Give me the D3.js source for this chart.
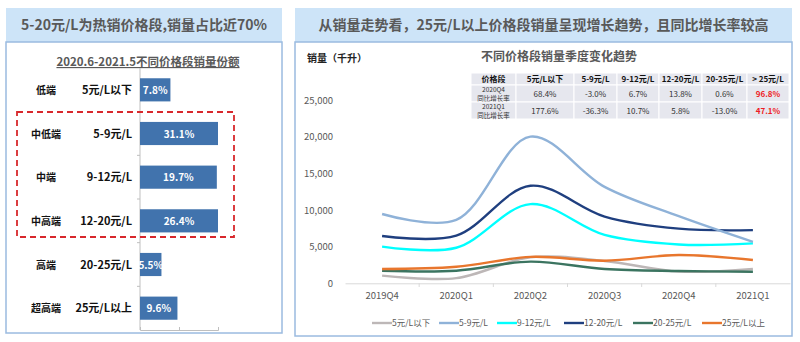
<!DOCTYPE html>
<html lang="zh">
<head>
    <meta charset="UTF-8">
    <title>价格段销量分析</title>
    <script src="https://d3js.org/d3.v7.min.js"></script>
    <style>
        body { margin: 0; background: #fff; }
        text { font-family: "Noto Sans CJK SC", "Noto Sans", sans-serif; }
    </style>
</head>
<body>
    <script>
        // 左图：价格段份额
        var tiers = ["低端", "中低端", "中端", "中高端", "高端", "超高端"];
        var priceBands = ["5元/L以下", "5-9元/L", "9-12元/L", "12-20元/L", "20-25元/L", "25元/L以上"];
        var shares = [7.8, 31.1, 19.7, 26.4, 5.5, 9.6];

        // 右图：季度销量（千升）
        var quarters = ["2019Q4", "2020Q1", "2020Q2", "2020Q3", "2020Q4", "2021Q1"];
        var salesBelow5 = [1050, 700, 3550, 3050, 1600, 1950];
        var sales5to9 = [9450, 8650, 20000, 13150, 9150, 5650];
        var sales9to12 = [5000, 4850, 10800, 6600, 5300, 5450];
        var sales12to20 = [6450, 6500, 13300, 9100, 7450, 7250];
        var sales20to25 = [1720, 1720, 2950, 1950, 1680, 1580];
        var salesAbove25 = [1950, 2250, 3600, 3080, 3850, 3180];
        var yTicks = [0, 5000, 10000, 15000, 20000, 25000];

        // 同比增长率表
        var tableHead = ["价格段", "5元/L以下", "5-9元/L", "9-12元/L", "12-20元/L", "20-25元/L", "> 25元/L"];
        var rowLabels = [["2020Q4", "同比增长率"], ["2021Q1", "同比增长率"]];
        var growthQ4 = ["68.4%", "-3.0%", "6.7%", "13.8%", "0.6%", "96.8%"];
        var growthQ1 = ["177.6%", "-36.3%", "10.7%", "5.8%", "-13.0%", "47.1%"];

        var lineColors = ["#bdb7b7", "#8fb2d8", "#00ffff", "#1f3f7f", "#3b7460", "#e8762d"];
        var series = [salesBelow5, sales5to9, sales9to12, sales12to20, sales20to25, salesAbove25];

        var svg = d3.select("body").append("svg")
            .attr("width", 800)
            .attr("height", 342);

        // 面板与标题栏
        function panel(x, w, h, title) {
            svg.append("rect").attr("x", x).attr("y", 8).attr("width", w).attr("height", 34)
                .attr("fill", "#cde4f8");
            svg.append("rect").attr("x", x).attr("y", 42).attr("width", w).attr("height", h)
                .attr("fill", "#fff").attr("stroke", "#9bbbe0").attr("stroke-width", 1.5);
            svg.append("text").attr("x", x + w / 2).attr("y", 30)
                .attr("text-anchor", "middle").attr("font-size", 14).attr("font-weight", "bold")
                .attr("fill", "#595959").text(title);
        }
        panel(6, 276, 291, "5-20元/L为热销价格段,销量占比近70%");
        panel(295, 497, 294, "从销量走势看，25元/L以上价格段销量呈现增长趋势，且同比增长率较高");

        // ---- 左图 ----
        var left = svg.append("g");
        left.append("text").attr("x", 148).attr("y", 66)
            .attr("text-anchor", "middle").attr("font-size", 11.5).attr("font-weight", "bold")
            .attr("fill", "#595959").attr("text-decoration", "underline")
            .text("2020.6-2021.5不同价格段销量份额");

        var yBand = d3.scaleBand().domain(priceBands).range([68, 330])
            .paddingInner(0.47).paddingOuter(0.235);
        var xShare = d3.scaleLinear().domain([0, 20]).range([140, 218]).clamp(true);

        left.append("g")
            .attr("transform", "translate(0,330)")
            .call(d3.axisBottom(xShare).tickValues([0, 10, 20]).tickSize(-3).tickFormat(""))
            .call(function(g) {
                g.selectAll("line, path").attr("stroke", "#bfbfbf");
            });
        left.append("line").attr("x1", 140).attr("x2", 140).attr("y1", 68).attr("y2", 330)
            .attr("stroke", "#bfbfbf");
        left.selectAll(".tk").data(d3.range(1, 6)).enter().append("line")
            .attr("x1", 137).attr("x2", 140)
            .attr("y1", function(i) { return 68 + i * yBand.step(); })
            .attr("y2", function(i) { return 68 + i * yBand.step(); })
            .attr("stroke", "#bfbfbf");

        left.selectAll(".bar").data(shares).enter().append("rect")
            .attr("x", xShare(0))
            .attr("y", function(d, i) { return yBand(priceBands[i]); })
            .attr("width", function(d) { return xShare(d) - xShare(0); })
            .attr("height", yBand.bandwidth())
            .attr("fill", "#4173ad");

        left.selectAll(".val").data(shares).enter().append("text")
            .attr("x", function(d) { return (xShare(0) + xShare(d)) / 2; })
            .attr("y", function(d, i) { return yBand(priceBands[i]) + yBand.bandwidth() / 2 + 4; })
            .attr("text-anchor", "middle").attr("font-size", 10).attr("font-weight", "bold")
            .attr("fill", "#fff")
            .text(function(d) { return d.toFixed(1) + "%"; });

        left.selectAll(".band").data(priceBands).enter().append("text")
            .attr("x", 132)
            .attr("y", function(d) { return yBand(d) + yBand.bandwidth() / 2 + 4; })
            .attr("text-anchor", "end").attr("font-size", 11).attr("font-weight", "bold")
            .attr("fill", "#111").text(function(d) { return d; });

        left.selectAll(".tier").data(tiers).enter().append("text")
            .attr("x", 46)
            .attr("y", function(d, i) { return yBand(priceBands[i]) + yBand.bandwidth() / 2 + 4; })
            .attr("text-anchor", "middle").attr("font-size", 10).attr("font-weight", "bold")
            .attr("fill", "#111").text(function(d) { return d; });

        // 5-20元/L 热销区间虚线框
        left.append("rect").attr("x", 17).attr("y", 112).attr("width", 217).attr("height", 125)
            .attr("fill", "none").attr("stroke", "#d8282c").attr("stroke-width", 1.8)
            .attr("stroke-dasharray", "6,4");

        // ---- 右图 ----
        var right = svg.append("g");
        right.append("text").attr("x", 307).attr("y", 62)
            .attr("font-size", 10).attr("font-weight", "bold").attr("fill", "#222")
            .text("销量（千升）");
        right.append("text").attr("x", 559).attr("y", 61)
            .attr("text-anchor", "middle").attr("font-size", 12).attr("font-weight", "bold")
            .attr("fill", "#595959").text("不同价格段销量季度变化趋势");

        // 同比表格
        var colW = [45, 58, 43, 42, 43, 45, 42];
        var colX = [471];
        colW.forEach(function(w, i) { colX.push(colX[i] + w); });
        var rowY = [73, 85, 102, 119];
        var table = right.append("g");
        var rows = [tableHead, [rowLabels[0]].concat(growthQ4), [rowLabels[1]].concat(growthQ1)];
        rows.forEach(function(row, r) {
            row.forEach(function(cell, c) {
                table.append("rect")
                    .attr("x", colX[c]).attr("y", rowY[r])
                    .attr("width", colW[c]).attr("height", rowY[r + 1] - rowY[r])
                    .attr("fill", "#e6e7ee").attr("stroke", "#fff").attr("stroke-width", 1);
                var cx = colX[c] + colW[c] / 2;
                var cy = (rowY[r] + rowY[r + 1]) / 2;
                if (Array.isArray(cell)) {
                    table.append("text").attr("x", cx).attr("y", cy - 1.5)
                        .attr("text-anchor", "middle").attr("font-size", 6.5).attr("fill", "#333")
                        .text(cell[0]);
                    table.append("text").attr("x", cx).attr("y", cy + 7)
                        .attr("text-anchor", "middle").attr("font-size", 6.5).attr("fill", "#333")
                        .text(cell[1]);
                } else {
                    var red = r > 0 && c === 6;
                    table.append("text").attr("x", cx).attr("y", cy + 3)
                        .attr("text-anchor", "middle").attr("font-size", 8)
                        .attr("font-weight", r === 0 || red ? "bold" : "normal")
                        .attr("fill", red ? "#ee1c25" : (r === 0 ? "#111" : "#333"))
                        .text(cell);
                }
            });
        });

        var x = d3.scaleBand().domain(quarters).range([345, 790]);
        var y = d3.scaleLinear().domain([0, 25000]).range([283.3, 100]);

        right.append("g")
            .attr("transform", "translate(0,283.3)")
            .call(d3.axisBottom(x).tickSize(0).tickPadding(9))
            .call(function(g) {
                g.select(".domain").attr("stroke", "#d9d9d9");
                g.selectAll("text").attr("font-size", 9.5).attr("fill", "#595959")
                    .attr("font-family", "'Noto Sans CJK SC', sans-serif");
            });
        right.selectAll(".xt").data(d3.range(1, 6)).enter().append("line")
            .attr("x1", function(i) { return 345 + i * x.step(); })
            .attr("x2", function(i) { return 345 + i * x.step(); })
            .attr("y1", 283.3).attr("y2", 287)
            .attr("stroke", "#d9d9d9");

        right.append("g")
            .attr("transform", "translate(333,0)")
            .call(d3.axisLeft(y).tickValues(yTicks).tickSize(0).tickPadding(0)
                .tickFormat(d3.format(",")))
            .call(function(g) {
                g.select(".domain").remove();
                g.selectAll("text").attr("font-size", 9.5).attr("fill", "#595959")
                    .attr("font-family", "'Noto Sans CJK SC', sans-serif");
            });

        var line = d3.line()
            .x(function(d, i) { return x(quarters[i]) + x.bandwidth() / 2; })
            .y(function(d) { return y(d); })
            .curve(d3.curveCatmullRom.alpha(0.5));

        // 先画小值系列，再画大值系列
        var order = [0, 4, 5, 2, 3, 1];
        order.forEach(function(k) {
            right.append("path")
                .datum(series[k])
                .attr("d", line)
                .attr("fill", "none")
                .attr("stroke", lineColors[k])
                .attr("stroke-width", 2.4);
        });

        // 图例
        var legendX = [372, 439, 497, 564, 633, 702];
        var legend = right.selectAll(".lg").data(priceBands).enter().append("g")
            .attr("transform", function(d, i) { return "translate(" + legendX[i] + ",323)"; });
        legend.append("line").attr("x1", 0).attr("x2", 20).attr("y1", 0).attr("y2", 0)
            .attr("stroke", function(d, i) { return lineColors[i]; }).attr("stroke-width", 2.4);
        legend.append("text").attr("x", 20).attr("y", 3)
            .attr("font-size", 8.5).attr("fill", "#595959")
            .text(function(d) { return d; });
    </script>
</body>
</html>
